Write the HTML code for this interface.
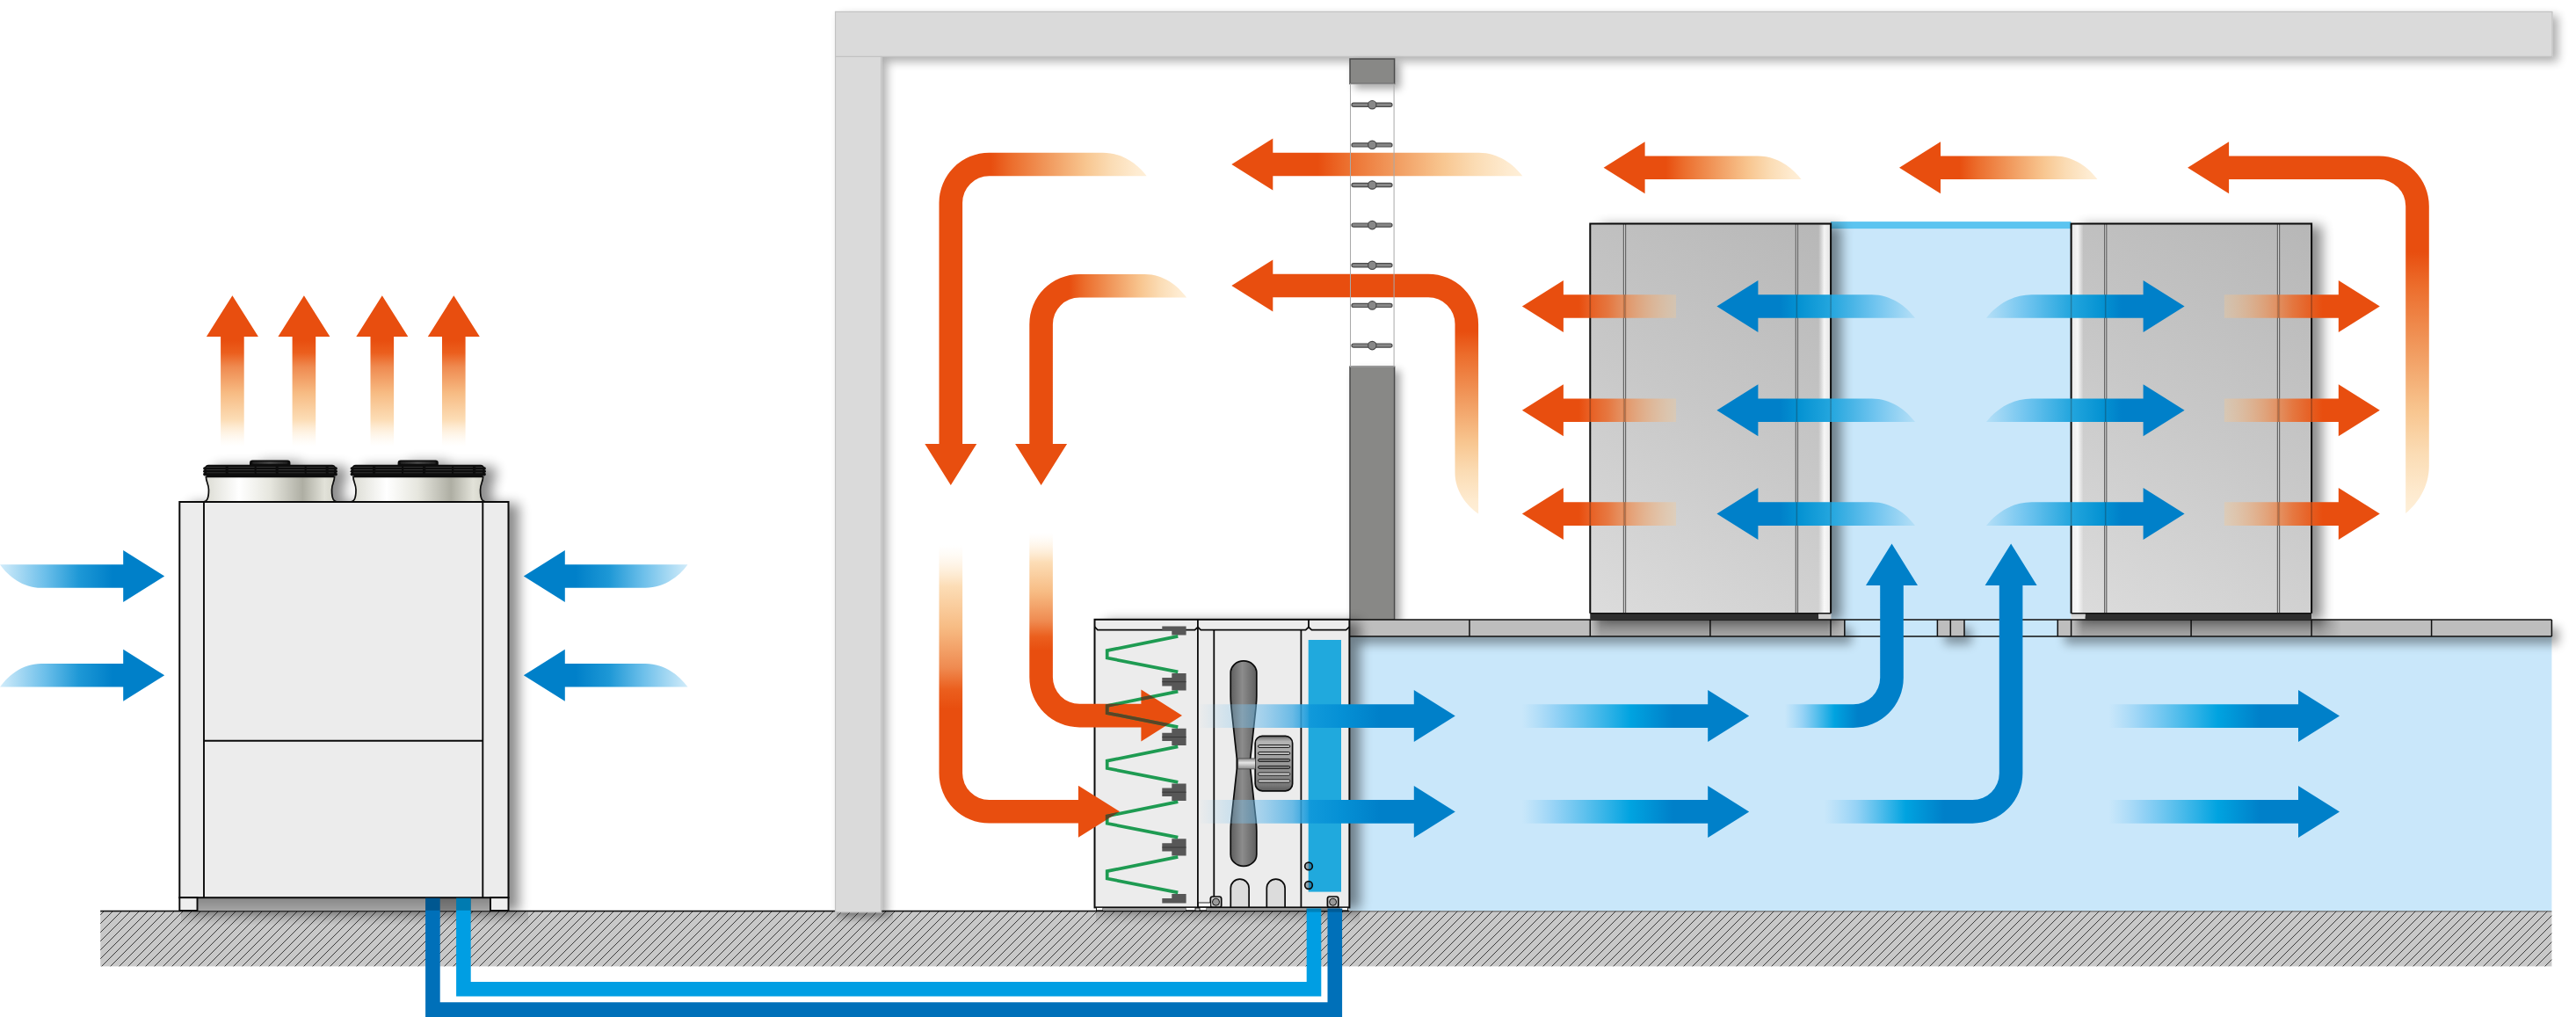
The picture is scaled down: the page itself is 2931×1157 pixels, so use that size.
<!DOCTYPE html>
<html><head><meta charset="utf-8"><title>Cooling airflow diagram</title>
<style>html,body{margin:0;padding:0;background:#fff;font-family:"Liberation Sans",sans-serif;}svg{display:block}</style>
</head><body>
<svg width="2931" height="1157" viewBox="0 0 2931 1157">
<defs>
<pattern id="hatch" patternUnits="userSpaceOnUse" width="10" height="10"><rect width="10" height="10" fill="#C8C8C8"/><path d="M-1,6 L6,-1 M4,11 L11,4" stroke="#333" stroke-width="0.95" fill="none"/></pattern>
<linearGradient id="gsh" x1="0" y1="0" x2="0" y2="1"><stop offset="0" stop-color="#000" stop-opacity="0.16"/><stop offset="1" stop-color="#000" stop-opacity="0"/></linearGradient>
<filter id="shS" x="-5%" y="-5%" width="110%" height="115%"><feGaussianBlur in="SourceAlpha" stdDeviation="5.5"/><feOffset dx="6" dy="5"/><feComponentTransfer><feFuncA type="linear" slope="0.32"/></feComponentTransfer><feMerge><feMergeNode/><feMergeNode in="SourceGraphic"/></feMerge></filter>
<filter id="shL" x="-15%" y="-15%" width="135%" height="130%"><feGaussianBlur in="SourceAlpha" stdDeviation="7"/><feOffset dx="12" dy="2"/><feComponentTransfer><feFuncA type="linear" slope="0.45"/></feComponentTransfer><feMerge><feMergeNode/><feMergeNode in="SourceGraphic"/></feMerge></filter>
<filter id="shF" x="-2%" y="-60%" width="104%" height="320%"><feGaussianBlur in="SourceAlpha" stdDeviation="6"/><feOffset dx="8" dy="9"/><feComponentTransfer><feFuncA type="linear" slope="0.36"/></feComponentTransfer><feMerge><feMergeNode/><feMergeNode in="SourceGraphic"/></feMerge></filter>
<filter id="shC" filterUnits="userSpaceOnUse" x="1500" y="40" width="140" height="700"><feGaussianBlur in="SourceAlpha" stdDeviation="5"/><feOffset dx="6" dy="5"/><feComponentTransfer><feFuncA type="linear" slope="0.34"/></feComponentTransfer><feMerge><feMergeNode/><feMergeNode in="SourceGraphic"/></feMerge></filter>
<linearGradient id="fsh" x1="0" y1="0" x2="0" y2="1"><stop offset="0" stop-color="#000" stop-opacity="0.32"/><stop offset="1" stop-color="#000" stop-opacity="0.12"/></linearGradient>
<linearGradient id="fshm" x1="0" y1="0" x2="1" y2="0"><stop offset="0" stop-color="#fff" stop-opacity="0"/><stop offset="0.04" stop-color="#fff"/><stop offset="0.92" stop-color="#fff"/><stop offset="1" stop-color="#fff" stop-opacity="0"/></linearGradient>
<mask id="mk1" maskUnits="userSpaceOnUse" x="1800" y="700" width="320" height="30"><rect x="1810" y="700" width="292" height="30" fill="url(#fshm)"/></mask>
<mask id="mk2" maskUnits="userSpaceOnUse" x="2350" y="700" width="330" height="30"><rect x="2358" y="700" width="306" height="30" fill="url(#fshm)"/></mask>
<linearGradient id="g1" gradientUnits="userSpaceOnUse" x1="1809.3" y1="697.8" x2="2083.1" y2="254.6"><stop offset="0.000" stop-color="#DCDCDC"/><stop offset="0.500" stop-color="#C8C8C8"/><stop offset="1.000" stop-color="#B7B7B7"/></linearGradient>
<linearGradient id="g2" gradientUnits="userSpaceOnUse" x1="2069.1" y1="0.0" x2="2082.3" y2="0.0"><stop offset="0.000" stop-color="#fff" stop-opacity="0.00"/><stop offset="0.500" stop-color="#fff" stop-opacity="0.85"/><stop offset="1.000" stop-color="#fff" stop-opacity="0.60"/></linearGradient>
<linearGradient id="g3" gradientUnits="userSpaceOnUse" x1="2356.6" y1="697.8" x2="2630.1" y2="254.6"><stop offset="0.000" stop-color="#DCDCDC"/><stop offset="0.500" stop-color="#C8C8C8"/><stop offset="1.000" stop-color="#B7B7B7"/></linearGradient>
<linearGradient id="g4" gradientUnits="userSpaceOnUse" x1="2357.4" y1="0.0" x2="2370.6" y2="0.0"><stop offset="0.000" stop-color="#fff" stop-opacity="0.60"/><stop offset="0.500" stop-color="#fff" stop-opacity="0.85"/><stop offset="1.000" stop-color="#fff" stop-opacity="0.00"/></linearGradient>
<linearGradient id="bld" x1="0" y1="0" x2="1" y2="0"><stop offset="0" stop-color="#5e5e5e"/><stop offset="0.45" stop-color="#8c8c8c"/><stop offset="1" stop-color="#5e5e5e"/></linearGradient>
<linearGradient id="mot" x1="0" y1="0" x2="0" y2="1"><stop offset="0" stop-color="#6a6a6a"/><stop offset="0.1" stop-color="#b5b5b5"/><stop offset="0.5" stop-color="#9a9a9a"/><stop offset="0.9" stop-color="#777"/><stop offset="1" stop-color="#5a5a5a"/></linearGradient>
<linearGradient id="hub" x1="0" y1="0" x2="0" y2="1"><stop offset="0" stop-color="#8a8a8a"/><stop offset="0.4" stop-color="#e6e6e6"/><stop offset="1" stop-color="#8a8a8a"/></linearGradient>
<linearGradient id="sc" x1="0" y1="0" x2="1" y2="0"><stop offset="0" stop-color="#b9b9b9"/><stop offset="0.45" stop-color="#7f97a5"/><stop offset="0.55" stop-color="#1F86B5"/><stop offset="1" stop-color="#1F86B5"/></linearGradient>
<linearGradient id="capb" x1="0" y1="0" x2="1" y2="0"><stop offset="0" stop-color="#d9d9d0"/><stop offset="0.27" stop-color="#ffffff"/><stop offset="0.5" stop-color="#e6e6de"/><stop offset="0.74" stop-color="#aeaea3"/><stop offset="0.9" stop-color="#e2e2d9"/><stop offset="1" stop-color="#d0d0c6"/></linearGradient>
<linearGradient id="bmp" x1="0" y1="0" x2="1" y2="0"><stop offset="0" stop-color="#222"/><stop offset="0.5" stop-color="#4a4a4a"/><stop offset="1" stop-color="#222"/></linearGradient>
<linearGradient id="ush" x1="0" y1="0" x2="0" y2="1"><stop offset="0" stop-color="#000" stop-opacity="0.18"/><stop offset="1" stop-color="#000" stop-opacity="0"/></linearGradient>
<linearGradient id="g5" gradientUnits="userSpaceOnUse" x1="1127.7" y1="0.0" x2="1304.7" y2="0.0"><stop offset="0.000" stop-color="#E84E0F"/><stop offset="0.130" stop-color="#EC6D2C"/><stop offset="0.370" stop-color="#F19A5E"/><stop offset="0.610" stop-color="#F8C690"/><stop offset="0.770" stop-color="#FBDCB4"/><stop offset="0.930" stop-color="#FEEBD0"/><stop offset="1.000" stop-color="#FEEFD8"/></linearGradient>
<linearGradient id="g6" gradientUnits="userSpaceOnUse" x1="1216.7" y1="0.0" x2="1350.1" y2="0.0"><stop offset="0.000" stop-color="#E84E0F"/><stop offset="0.130" stop-color="#EC6D2C"/><stop offset="0.370" stop-color="#F19A5E"/><stop offset="0.610" stop-color="#F8C690"/><stop offset="0.770" stop-color="#FBDCB4"/><stop offset="0.930" stop-color="#FEEBD0"/><stop offset="1.000" stop-color="#FEEFD8"/></linearGradient>
<linearGradient id="g7" gradientUnits="userSpaceOnUse" x1="0.0" y1="806.5" x2="0.0" y2="620.0"><stop offset="0.000" stop-color="#E84E0F"/><stop offset="0.120" stop-color="#EB5F1E"/><stop offset="0.250" stop-color="#EF8A50"/><stop offset="0.500" stop-color="#F7BC84"/><stop offset="0.750" stop-color="#FCDDB6"/><stop offset="1.000" stop-color="#FFF3E0" stop-opacity="0.00"/></linearGradient>
<linearGradient id="g8" gradientUnits="userSpaceOnUse" x1="0.0" y1="740.4" x2="0.0" y2="606.0"><stop offset="0.000" stop-color="#E84E0F"/><stop offset="0.120" stop-color="#EB5F1E"/><stop offset="0.250" stop-color="#EF8A50"/><stop offset="0.500" stop-color="#F7BC84"/><stop offset="0.750" stop-color="#FCDDB6"/><stop offset="1.000" stop-color="#FFF3E0" stop-opacity="0.00"/></linearGradient>
<linearGradient id="g9" gradientUnits="userSpaceOnUse" x1="1499.6" y1="0.0" x2="1732.3" y2="0.0"><stop offset="0.000" stop-color="#E84E0F"/><stop offset="0.130" stop-color="#EC6D2C"/><stop offset="0.370" stop-color="#F19A5E"/><stop offset="0.610" stop-color="#F8C690"/><stop offset="0.770" stop-color="#FBDCB4"/><stop offset="0.930" stop-color="#FEEBD0"/><stop offset="1.000" stop-color="#FEEFD8"/></linearGradient>
<linearGradient id="g10" gradientUnits="userSpaceOnUse" x1="1895.6" y1="0.0" x2="2049.6" y2="0.0"><stop offset="0.000" stop-color="#E84E0F"/><stop offset="0.130" stop-color="#EC6D2C"/><stop offset="0.370" stop-color="#F19A5E"/><stop offset="0.610" stop-color="#F8C690"/><stop offset="0.770" stop-color="#FBDCB4"/><stop offset="0.930" stop-color="#FEEBD0"/><stop offset="1.000" stop-color="#FEEFD8"/></linearGradient>
<linearGradient id="g11" gradientUnits="userSpaceOnUse" x1="2229.5" y1="0.0" x2="2386.4" y2="0.0"><stop offset="0.000" stop-color="#E84E0F"/><stop offset="0.130" stop-color="#EC6D2C"/><stop offset="0.370" stop-color="#F19A5E"/><stop offset="0.610" stop-color="#F8C690"/><stop offset="0.770" stop-color="#FBDCB4"/><stop offset="0.930" stop-color="#FEEBD0"/><stop offset="1.000" stop-color="#FEEFD8"/></linearGradient>
<linearGradient id="g12" gradientUnits="userSpaceOnUse" x1="0.0" y1="377.0" x2="0.0" y2="584.5"><stop offset="0.000" stop-color="#E84E0F"/><stop offset="0.130" stop-color="#EC6D2C"/><stop offset="0.370" stop-color="#F19A5E"/><stop offset="0.610" stop-color="#F8C690"/><stop offset="0.770" stop-color="#FBDCB4"/><stop offset="0.930" stop-color="#FEEBD0"/><stop offset="1.000" stop-color="#FEEFD8"/></linearGradient>
<linearGradient id="g13" gradientUnits="userSpaceOnUse" x1="0.0" y1="286.7" x2="0.0" y2="584.0"><stop offset="0.000" stop-color="#E84E0F"/><stop offset="0.130" stop-color="#EC6D2C"/><stop offset="0.370" stop-color="#F19A5E"/><stop offset="0.610" stop-color="#F8C690"/><stop offset="0.770" stop-color="#FBDCB4"/><stop offset="0.930" stop-color="#FEEBD0"/><stop offset="1.000" stop-color="#FEEFD8"/></linearGradient>
<linearGradient id="g14" gradientUnits="userSpaceOnUse" x1="0.0" y1="387.0" x2="0.0" y2="508.0"><stop offset="0.000" stop-color="#E84E0F"/><stop offset="0.120" stop-color="#EB5F1E"/><stop offset="0.250" stop-color="#EF8A50"/><stop offset="0.500" stop-color="#F7BC84"/><stop offset="0.750" stop-color="#FCDDB6"/><stop offset="1.000" stop-color="#FFF3E0" stop-opacity="0.00"/></linearGradient>
<linearGradient id="g15" gradientUnits="userSpaceOnUse" x1="0.0" y1="387.0" x2="0.0" y2="508.0"><stop offset="0.000" stop-color="#E84E0F"/><stop offset="0.120" stop-color="#EB5F1E"/><stop offset="0.250" stop-color="#EF8A50"/><stop offset="0.500" stop-color="#F7BC84"/><stop offset="0.750" stop-color="#FCDDB6"/><stop offset="1.000" stop-color="#FFF3E0" stop-opacity="0.00"/></linearGradient>
<linearGradient id="g16" gradientUnits="userSpaceOnUse" x1="0.0" y1="387.0" x2="0.0" y2="508.0"><stop offset="0.000" stop-color="#E84E0F"/><stop offset="0.120" stop-color="#EB5F1E"/><stop offset="0.250" stop-color="#EF8A50"/><stop offset="0.500" stop-color="#F7BC84"/><stop offset="0.750" stop-color="#FCDDB6"/><stop offset="1.000" stop-color="#FFF3E0" stop-opacity="0.00"/></linearGradient>
<linearGradient id="g17" gradientUnits="userSpaceOnUse" x1="0.0" y1="387.0" x2="0.0" y2="508.0"><stop offset="0.000" stop-color="#E84E0F"/><stop offset="0.120" stop-color="#EB5F1E"/><stop offset="0.250" stop-color="#EF8A50"/><stop offset="0.500" stop-color="#F7BC84"/><stop offset="0.750" stop-color="#FCDDB6"/><stop offset="1.000" stop-color="#FFF3E0" stop-opacity="0.00"/></linearGradient>
<linearGradient id="g18" gradientUnits="userSpaceOnUse" x1="1797.0" y1="0.0" x2="1907.0" y2="0.0"><stop offset="0.000" stop-color="#E84E0F"/><stop offset="0.300" stop-color="#EA6A2A" stop-opacity="0.86"/><stop offset="0.650" stop-color="#F0985A" stop-opacity="0.58"/><stop offset="1.000" stop-color="#F8C890" stop-opacity="0.32"/></linearGradient>
<linearGradient id="g19" gradientUnits="userSpaceOnUse" x1="2642.7" y1="0.0" x2="2530.8" y2="0.0"><stop offset="0.000" stop-color="#E84E0F"/><stop offset="0.300" stop-color="#EA6A2A" stop-opacity="0.86"/><stop offset="0.650" stop-color="#F0985A" stop-opacity="0.58"/><stop offset="1.000" stop-color="#F8C890" stop-opacity="0.32"/></linearGradient>
<linearGradient id="g20" gradientUnits="userSpaceOnUse" x1="1797.0" y1="0.0" x2="1907.0" y2="0.0"><stop offset="0.000" stop-color="#E84E0F"/><stop offset="0.300" stop-color="#EA6A2A" stop-opacity="0.86"/><stop offset="0.650" stop-color="#F0985A" stop-opacity="0.58"/><stop offset="1.000" stop-color="#F8C890" stop-opacity="0.32"/></linearGradient>
<linearGradient id="g21" gradientUnits="userSpaceOnUse" x1="2642.7" y1="0.0" x2="2530.8" y2="0.0"><stop offset="0.000" stop-color="#E84E0F"/><stop offset="0.300" stop-color="#EA6A2A" stop-opacity="0.86"/><stop offset="0.650" stop-color="#F0985A" stop-opacity="0.58"/><stop offset="1.000" stop-color="#F8C890" stop-opacity="0.32"/></linearGradient>
<linearGradient id="g22" gradientUnits="userSpaceOnUse" x1="1797.0" y1="0.0" x2="1907.0" y2="0.0"><stop offset="0.000" stop-color="#E84E0F"/><stop offset="0.300" stop-color="#EA6A2A" stop-opacity="0.86"/><stop offset="0.650" stop-color="#F0985A" stop-opacity="0.58"/><stop offset="1.000" stop-color="#F8C890" stop-opacity="0.32"/></linearGradient>
<linearGradient id="g23" gradientUnits="userSpaceOnUse" x1="2642.7" y1="0.0" x2="2530.8" y2="0.0"><stop offset="0.000" stop-color="#E84E0F"/><stop offset="0.300" stop-color="#EA6A2A" stop-opacity="0.86"/><stop offset="0.650" stop-color="#F0985A" stop-opacity="0.58"/><stop offset="1.000" stop-color="#F8C890" stop-opacity="0.32"/></linearGradient>
<linearGradient id="g24" gradientUnits="userSpaceOnUse" x1="128.0" y1="0.0" x2="0.0" y2="0.0"><stop offset="0.000" stop-color="#0080C9"/><stop offset="0.300" stop-color="#1E98D6"/><stop offset="0.600" stop-color="#6CBFEA"/><stop offset="1.000" stop-color="#D2ECFA"/></linearGradient>
<linearGradient id="g25" gradientUnits="userSpaceOnUse" x1="655.0" y1="0.0" x2="782.5" y2="0.0"><stop offset="0.000" stop-color="#0080C9"/><stop offset="0.300" stop-color="#1E98D6"/><stop offset="0.600" stop-color="#6CBFEA"/><stop offset="1.000" stop-color="#D2ECFA"/></linearGradient>
<linearGradient id="g26" gradientUnits="userSpaceOnUse" x1="1363.0" y1="0.0" x2="1570.0" y2="0.0"><stop offset="0.000" stop-color="#7DC4EE" stop-opacity="0.00"/><stop offset="0.190" stop-color="#7DC4EE" stop-opacity="0.30"/><stop offset="0.360" stop-color="#6FBDEB" stop-opacity="0.60"/><stop offset="0.520" stop-color="#4AAEE4" stop-opacity="0.80"/><stop offset="0.620" stop-color="#0F98DA" stop-opacity="0.95"/><stop offset="0.790" stop-color="#0590D5"/><stop offset="1.000" stop-color="#0080C9"/></linearGradient>
<linearGradient id="g27" gradientUnits="userSpaceOnUse" x1="1363.0" y1="0.0" x2="1570.0" y2="0.0"><stop offset="0.000" stop-color="#7DC4EE" stop-opacity="0.00"/><stop offset="0.190" stop-color="#7DC4EE" stop-opacity="0.30"/><stop offset="0.360" stop-color="#6FBDEB" stop-opacity="0.60"/><stop offset="0.520" stop-color="#4AAEE4" stop-opacity="0.80"/><stop offset="0.620" stop-color="#0F98DA" stop-opacity="0.95"/><stop offset="0.790" stop-color="#0590D5"/><stop offset="1.000" stop-color="#0080C9"/></linearGradient>
<linearGradient id="g28" gradientUnits="userSpaceOnUse" x1="1731.7" y1="0.0" x2="1903.5" y2="0.0"><stop offset="0.000" stop-color="#9AD4F6" stop-opacity="0.00"/><stop offset="0.220" stop-color="#8FD0F5" stop-opacity="0.90"/><stop offset="0.720" stop-color="#00A3E0"/><stop offset="1.000" stop-color="#0080C9"/></linearGradient>
<linearGradient id="g29" gradientUnits="userSpaceOnUse" x1="2399.7" y1="0.0" x2="2571.5" y2="0.0"><stop offset="0.000" stop-color="#9AD4F6" stop-opacity="0.00"/><stop offset="0.220" stop-color="#8FD0F5" stop-opacity="0.90"/><stop offset="0.720" stop-color="#00A3E0"/><stop offset="1.000" stop-color="#0080C9"/></linearGradient>
<linearGradient id="g30" gradientUnits="userSpaceOnUse" x1="1731.7" y1="0.0" x2="1903.5" y2="0.0"><stop offset="0.000" stop-color="#9AD4F6" stop-opacity="0.00"/><stop offset="0.220" stop-color="#8FD0F5" stop-opacity="0.90"/><stop offset="0.720" stop-color="#00A3E0"/><stop offset="1.000" stop-color="#0080C9"/></linearGradient>
<linearGradient id="g31" gradientUnits="userSpaceOnUse" x1="2399.7" y1="0.0" x2="2571.5" y2="0.0"><stop offset="0.000" stop-color="#9AD4F6" stop-opacity="0.00"/><stop offset="0.220" stop-color="#8FD0F5" stop-opacity="0.90"/><stop offset="0.720" stop-color="#00A3E0"/><stop offset="1.000" stop-color="#0080C9"/></linearGradient>
<linearGradient id="g32" gradientUnits="userSpaceOnUse" x1="2030.6" y1="0.0" x2="2114.0" y2="0.0"><stop offset="0.000" stop-color="#9AD4F6" stop-opacity="0.00"/><stop offset="0.250" stop-color="#8FD0F5" stop-opacity="0.90"/><stop offset="0.680" stop-color="#00A3E0"/><stop offset="1.000" stop-color="#0080C9"/></linearGradient>
<linearGradient id="g33" gradientUnits="userSpaceOnUse" x1="2075.4" y1="0.0" x2="2212.0" y2="0.0"><stop offset="0.000" stop-color="#9AD4F6" stop-opacity="0.00"/><stop offset="0.270" stop-color="#8FD0F5" stop-opacity="0.90"/><stop offset="0.680" stop-color="#00A3E0"/><stop offset="1.000" stop-color="#0080C9"/></linearGradient>
<linearGradient id="g34" gradientUnits="userSpaceOnUse" x1="2025.0" y1="0.0" x2="2179.0" y2="0.0"><stop offset="0.000" stop-color="#0080C9"/><stop offset="0.140" stop-color="#0492D2"/><stop offset="0.380" stop-color="#24A6DE"/><stop offset="0.700" stop-color="#6FC4EF"/><stop offset="1.000" stop-color="#B5DFF7"/></linearGradient>
<linearGradient id="g35" gradientUnits="userSpaceOnUse" x1="2414.0" y1="0.0" x2="2260.0" y2="0.0"><stop offset="0.000" stop-color="#0080C9"/><stop offset="0.140" stop-color="#0492D2"/><stop offset="0.380" stop-color="#24A6DE"/><stop offset="0.700" stop-color="#6FC4EF"/><stop offset="1.000" stop-color="#B5DFF7"/></linearGradient>
<linearGradient id="g36" gradientUnits="userSpaceOnUse" x1="2025.0" y1="0.0" x2="2179.0" y2="0.0"><stop offset="0.000" stop-color="#0080C9"/><stop offset="0.140" stop-color="#0492D2"/><stop offset="0.380" stop-color="#24A6DE"/><stop offset="0.700" stop-color="#6FC4EF"/><stop offset="1.000" stop-color="#B5DFF7"/></linearGradient>
<linearGradient id="g37" gradientUnits="userSpaceOnUse" x1="2414.0" y1="0.0" x2="2260.0" y2="0.0"><stop offset="0.000" stop-color="#0080C9"/><stop offset="0.140" stop-color="#0492D2"/><stop offset="0.380" stop-color="#24A6DE"/><stop offset="0.700" stop-color="#6FC4EF"/><stop offset="1.000" stop-color="#B5DFF7"/></linearGradient>
<linearGradient id="g38" gradientUnits="userSpaceOnUse" x1="2025.0" y1="0.0" x2="2179.0" y2="0.0"><stop offset="0.000" stop-color="#0080C9"/><stop offset="0.140" stop-color="#0492D2"/><stop offset="0.380" stop-color="#24A6DE"/><stop offset="0.700" stop-color="#6FC4EF"/><stop offset="1.000" stop-color="#B5DFF7"/></linearGradient>
<linearGradient id="g39" gradientUnits="userSpaceOnUse" x1="2414.0" y1="0.0" x2="2260.0" y2="0.0"><stop offset="0.000" stop-color="#0080C9"/><stop offset="0.140" stop-color="#0492D2"/><stop offset="0.380" stop-color="#24A6DE"/><stop offset="0.700" stop-color="#6FC4EF"/><stop offset="1.000" stop-color="#B5DFF7"/></linearGradient>
<clipPath id="cpo"><path d="M1068.5,620 L1068.5,879.6 A57,57 0 0 0 1125.5,936.6 L1226.9,936.6 L1226.9,952.8 L1274,923.3 L1226.9,893.8 L1226.9,910 L1125.5,910 A30.4,30.4 0 0 1 1095.1,879.6 L1095.1,620 Z"/><path d="M1171.3,606 L1171.3,770.4 A57,57 0 0 0 1228.3,827.4 L1298.4,827.4 L1298.4,843.6 L1345,814.1 L1298.4,784.6 L1298.4,800.8 L1228.3,800.8 A30.4,30.4 0 0 1 1197.9,770.4 L1197.9,606 Z"/></clipPath>
</defs>
<rect width="2931" height="1157" fill="#fff"/>
<rect x="1535.5" y="705" width="1367.9" height="331.5" fill="#C9E7FA"/>
<rect x="2083" y="254.5" width="273.6" height="470" fill="#C9E7FA"/>
<rect x="2083" y="252.1" width="273.4" height="8" fill="#5BC4F0"/>
<rect x="114.2" y="1036.6" width="2789.2" height="62.8" fill="url(#hatch)"/>
<rect x="114.2" y="1035.7" width="1421" height="1.6" fill="#111"/>
<rect x="1535" y="1036.4" width="1368.4" height="0.9" fill="#444"/>
<rect x="206" y="1037.3" width="395" height="16" fill="url(#gsh)"/>
<rect x="1247" y="1037.3" width="300" height="16" fill="url(#gsh)"/>
<rect x="952" y="1037.3" width="64" height="12" fill="url(#gsh)"/>
<g filter="url(#shS)">
<path d="M950.5,13.3 H2904 V64.3 H1002.6 V1037.6 H950.5 Z" fill="#DADADA" stroke="#C2C2C2" stroke-width="1.2"/>
</g>
<path d="M950.5,64.3 H1002.6" stroke="#C2C2C2" stroke-width="1.2" fill="none"/>
<g filter="url(#shC)">
<rect x="1536" y="67" width="50.6" height="28.3" fill="#888886" stroke="#4a4a4a" stroke-width="1.5"/>
<rect x="1536" y="417.2" width="50.6" height="288" fill="#888886" stroke="#4a4a4a" stroke-width="1.5"/>
</g>
<g filter="url(#shF)">
<rect x="1535.5" y="705.0" width="563.3" height="19.0" fill="#BEBEBE"/>
<rect x="2204.4" y="705.0" width="30.6" height="19.0" fill="#BEBEBE"/>
<rect x="2341.3" y="705.0" width="562.1" height="19.0" fill="#BEBEBE"/>
</g>
<rect x="1810" y="705" width="292" height="19" fill="url(#fsh)" mask="url(#mk1)"/>
<rect x="2358" y="705" width="306" height="19" fill="url(#fsh)" mask="url(#mk2)"/>
<path d="M1535.5,705.0 H2903.4 M1535.5,724.0 H2903.4" stroke="#111" stroke-width="1.5" fill="none"/>
<path d="M1672.0,705.0 V724.0 M1809.3,705.0 V724.0 M1945.9,705.0 V724.0 M2083.0,705.0 V724.0 M2098.8,705.0 V724.0 M2204.4,705.0 V724.0 M2219.3,705.0 V724.0 M2235.0,705.0 V724.0 M2341.3,705.0 V724.0 M2356.6,705.0 V724.0 M2493.1,705.0 V724.0 M2630.1,705.0 V724.0 M2766.6,705.0 V724.0 M2903.4,705.0 V724.0" stroke="#111" stroke-width="1.5" fill="none"/>
<g filter="url(#shL)">
<rect x="1809.3" y="254.6" width="273.8" height="449.2" fill="url(#g1)"/>
</g>
<rect x="2069.1" y="255.6" width="13.2" height="442.2" fill="url(#g2)"/>
<rect x="1809.3" y="697.8" width="259.8" height="7" fill="#2e2e2e"/>
<rect x="2069.1" y="697.8" width="14" height="3.5" fill="#d0d0d0"/>
<path d="M1848.5,254.6 V697.8" stroke="#d2d2d2" stroke-width="3" fill="none"/>
<path d="M1847.4,254.6 V697.8 M1849.6,254.6 V697.8" stroke="#666" stroke-width="1.2" fill="none"/>
<path d="M2044.4,254.6 V697.8" stroke="#d2d2d2" stroke-width="3" fill="none"/>
<path d="M2043.3,254.6 V697.8 M2045.5,254.6 V697.8" stroke="#666" stroke-width="1.2" fill="none"/>
<path d="M1809.3,697.8 V254.6 H2083.1 V697.8" stroke="#0a0a0a" stroke-width="2" fill="none"/>
<path d="M1809.3,697.8 H2083.1" stroke="#111" stroke-width="1.5" fill="none"/>
<g filter="url(#shL)">
<rect x="2356.6" y="254.6" width="273.5" height="449.2" fill="url(#g3)"/>
</g>
<rect x="2357.4" y="255.6" width="13.2" height="442.2" fill="url(#g4)"/>
<rect x="2372.6" y="697.8" width="257.5" height="7" fill="#2e2e2e"/>
<rect x="2356.6" y="697.8" width="16" height="3.5" fill="#d0d0d0"/>
<path d="M2395.7,254.6 V697.8" stroke="#d2d2d2" stroke-width="3" fill="none"/>
<path d="M2394.6,254.6 V697.8 M2396.8,254.6 V697.8" stroke="#666" stroke-width="1.2" fill="none"/>
<path d="M2592.5,254.6 V697.8" stroke="#d2d2d2" stroke-width="3" fill="none"/>
<path d="M2591.4,254.6 V697.8 M2593.6,254.6 V697.8" stroke="#666" stroke-width="1.2" fill="none"/>
<path d="M2356.6,697.8 V254.6 H2630.1 V697.8" stroke="#0a0a0a" stroke-width="2" fill="none"/>
<path d="M2356.6,697.8 H2630.1" stroke="#111" stroke-width="1.5" fill="none"/>
<g filter="url(#shL)">
<rect x="1245.5" y="704.8" width="289.9" height="327.6" fill="#ECECEC"/>
</g>
<rect x="1488.7" y="728" width="37.3" height="286.6" fill="#20A9DD"/>
<path d="M1245.5,713.2 L1248.9,716.6 H1359.5 L1362.9,713.5 L1366.3,716.6 H1485.6 L1489,713.5 L1492.4,716.6 H1531.6 L1535.4,713.2" stroke="#0a0a0a" stroke-width="1.7" fill="none"/>
<path d="M1362.9,704.8 V1032.4 M1381.3,716.6 V1032.4 M1480.4,716.6 V1032.4 M1489,704.8 V713.5" stroke="#0a0a0a" stroke-width="1.8" fill="none"/>
<path d="M1333.3,766.0 H1349.6 V785.4 H1333.3 V780.4 H1322.3 V771.0 H1333.3 Z" fill="#575757"/>
<path d="M1322.3,775.7 H1349.6" stroke="#333" stroke-width="0.9"/>
<path d="M1333.3,828.8 H1349.6 V848.1 H1333.3 V843.1 H1322.3 V833.8 H1333.3 Z" fill="#575757"/>
<path d="M1322.3,838.5 H1349.6" stroke="#333" stroke-width="0.9"/>
<path d="M1333.3,891.5 H1349.6 V910.9 H1333.3 V905.9 H1322.3 V896.5 H1333.3 Z" fill="#575757"/>
<path d="M1322.3,901.2 H1349.6" stroke="#333" stroke-width="0.9"/>
<path d="M1333.3,954.2 H1349.6 V973.6 H1333.3 V968.6 H1322.3 V959.2 H1333.3 Z" fill="#575757"/>
<path d="M1322.3,964.0 H1349.6" stroke="#333" stroke-width="0.9"/>
<path d="M1322.3,712.5 H1349.6 V722.6 H1333.3 V717.6 H1322.3 Z" fill="#575757"/>
<path d="M1333.3,1017.1 H1349.6 V1027.5 H1322.3 V1022.1 H1333.3 Z" fill="#575757"/>
<path d="M1400.2,765.3 A14.8,13.5 0 0 1 1429.8,765.3 V791.8 C1429.8,797.8 1429.4,800.8 1429.0,804.8 L1422.7,862.8 L1422.7,874.8 L1429.0,932.4 C1429.4,936.4 1429.8,939.4 1429.8,945.4 V971.9 A14.8,13.5 0 0 1 1400.2,971.9 V945.4 C1400.2,939.4 1400.6,936.4 1401.0,932.4 L1407.3,874.8 L1407.3,862.8 L1401.0,804.8 C1400.6,800.8 1400.2,797.8 1400.2,791.8 Z" fill="url(#bld)" stroke="#0a0a0a" stroke-width="1.7"/>
<rect x="1428.2" y="837.4" width="42.4" height="62.4" rx="8" fill="url(#mot)" stroke="#0a0a0a" stroke-width="1.7"/>
<rect x="1431.5" y="847.5" width="36.3" height="3" rx="1.5" fill="#b8b8b8" stroke="#111" stroke-width="0.9"/>
<rect x="1431.5" y="855.5" width="36.3" height="3" rx="1.5" fill="#b8b8b8" stroke="#111" stroke-width="0.9"/>
<rect x="1431.5" y="863.4" width="36.3" height="3" rx="1.5" fill="#7a7a7a" stroke="#111" stroke-width="0.9"/>
<rect x="1431.5" y="871.4" width="36.3" height="3" rx="1.5" fill="#7a7a7a" stroke="#111" stroke-width="0.9"/>
<rect x="1431.5" y="879.1" width="36.3" height="3" rx="1.5" fill="#d8d8d8" stroke="#111" stroke-width="0.9"/>
<rect x="1431.5" y="887.0" width="36.3" height="3" rx="1.5" fill="#d8d8d8" stroke="#111" stroke-width="0.9"/>
<rect x="1408.8" y="862.9" width="19.6" height="12" fill="url(#hub)" stroke="#333" stroke-width="0.6"/>
<path d="M1400.3,1032.4 V1010.4 A10.4,10.4 0 0 1 1421.1,1010.4 V1032.4" fill="#DCDCDC" stroke="#0a0a0a" stroke-width="1.7"/>
<path d="M1441.3,1032.4 V1010.4 A10.4,10.4 0 0 1 1462.1,1010.4 V1032.4" fill="#DCDCDC" stroke="#0a0a0a" stroke-width="1.7"/>
<rect x="1377.3" y="1020" width="12.4" height="12.4" rx="2.5" fill="#c9c9c9" stroke="#0a0a0a" stroke-width="1.7"/>
<circle cx="1383.5" cy="1026.2" r="4" fill="#9a9a9a" stroke="#111" stroke-width="1"/>
<rect x="1510.4" y="1020" width="12.4" height="12.4" rx="2.5" fill="#c9c9c9" stroke="#0a0a0a" stroke-width="1.7"/>
<circle cx="1516.6" cy="1026.2" r="4" fill="#9a9a9a" stroke="#111" stroke-width="1"/>
<rect x="1363.5" y="1027" width="14" height="5" fill="#fff" stroke="#111" stroke-width="0.9"/>
<circle cx="1489" cy="985.4" r="4.3" fill="url(#sc)" stroke="#0a0a0a" stroke-width="1.7"/>
<circle cx="1489" cy="1007.0" r="4.3" fill="url(#sc)" stroke="#0a0a0a" stroke-width="1.7"/>
<rect x="1245.5" y="704.8" width="289.9" height="327.6" fill="none" stroke="#0a0a0a" stroke-width="2"/>
<rect x="1247.5" y="1032.4" width="7.5" height="3.4" fill="#fff" stroke="#111" stroke-width="0.9"/>
<rect x="1349.0" y="1032.4" width="11.0" height="3.4" fill="#fff" stroke="#111" stroke-width="0.9"/>
<rect x="1365.0" y="1032.4" width="8.0" height="3.4" fill="#fff" stroke="#111" stroke-width="0.9"/>
<rect x="1524.0" y="1032.4" width="9.5" height="3.4" fill="#fff" stroke="#111" stroke-width="0.9"/>
<rect x="1255" y="1033.2" width="94" height="2.8" fill="#9c9c9c"/><rect x="1373" y="1033.2" width="151" height="2.8" fill="#9c9c9c"/>
<g filter="url(#shL)">
<rect x="204.3" y="571.0" width="374.2" height="464.2" fill="#ECECEC"/>
<path d="M234.4,542.3 C234.4,548.3 237.5,550.3 237.5,557.3 C237.5,567.0 235.7,571.0 230.2,571.0 H384.8 C379.3,571.0 377.5,567.0 377.5,557.3 C377.5,550.3 380.6,548.3 380.6,542.3 Z" fill="url(#capb)" stroke="#0a0a0a" stroke-width="1.7"/>
<rect x="284.0" y="523.6" width="46.4" height="10" rx="3.2" fill="#0a0a0a"/>
<rect x="287.0" y="525.2" width="40.4" height="2.6" rx="1.3" fill="url(#bmp)"/>
<rect x="232.7" y="528.7" width="149.6" height="13.6" rx="4.5" fill="#0a0a0a"/>
<circle cx="232.9" cy="533.0" r="1.8" fill="#0a0a0a"/><circle cx="382.1" cy="533.0" r="1.8" fill="#0a0a0a"/>
<circle cx="232.9" cy="536.3" r="1.8" fill="#0a0a0a"/><circle cx="382.1" cy="536.3" r="1.8" fill="#0a0a0a"/>
<circle cx="232.9" cy="539.6" r="1.8" fill="#0a0a0a"/><circle cx="382.1" cy="539.6" r="1.8" fill="#0a0a0a"/>
<path d="M234.7,531.4 H380.3 M234.7,534.6 H380.3 M234.7,537.8 H380.3" stroke="#484848" stroke-width="0.7" stroke-dasharray="22 3 30 2" fill="none"/>
<path d="M401.9,542.3 C401.9,548.3 405.0,550.3 405.0,557.3 C405.0,567.0 403.2,571.0 397.7,571.0 H553.8 C548.3,571.0 546.5,567.0 546.5,557.3 C546.5,550.3 549.6,548.3 549.6,542.3 Z" fill="url(#capb)" stroke="#0a0a0a" stroke-width="1.7"/>
<rect x="452.6" y="523.6" width="46.2" height="10" rx="3.2" fill="#0a0a0a"/>
<rect x="455.6" y="525.2" width="40.2" height="2.6" rx="1.3" fill="url(#bmp)"/>
<rect x="400.2" y="528.7" width="151.1" height="13.6" rx="4.5" fill="#0a0a0a"/>
<circle cx="400.4" cy="533.0" r="1.8" fill="#0a0a0a"/><circle cx="551.1" cy="533.0" r="1.8" fill="#0a0a0a"/>
<circle cx="400.4" cy="536.3" r="1.8" fill="#0a0a0a"/><circle cx="551.1" cy="536.3" r="1.8" fill="#0a0a0a"/>
<circle cx="400.4" cy="539.6" r="1.8" fill="#0a0a0a"/><circle cx="551.1" cy="539.6" r="1.8" fill="#0a0a0a"/>
<path d="M402.2,531.4 H549.3 M402.2,534.6 H549.3 M402.2,537.8 H549.3" stroke="#484848" stroke-width="0.7" stroke-dasharray="22 3 30 2" fill="none"/>
</g>
<rect x="224.5" y="1021.2" width="333.5" height="15" fill="#a4a4a4"/>
<rect x="224.5" y="1021.2" width="333.5" height="15" fill="url(#ush)"/>
<rect x="204.3" y="571.0" width="374.2" height="450.2" fill="#ECECEC" stroke="#0a0a0a" stroke-width="2"/>
<path d="M232,571.0 V1021.2 M549.3,571.0 V1021.2 M232,842.8 H549.3" stroke="#0a0a0a" stroke-width="1.9" fill="none"/>
<rect x="204.3" y="1021.2" width="20.2" height="14.8" fill="#EFEFEF" stroke="#0a0a0a" stroke-width="1.9"/>
<rect x="558" y="1021.2" width="20.5" height="14.8" fill="#EFEFEF" stroke="#0a0a0a" stroke-width="1.9"/>
<path d="M492.4,1021.8 V1148.6 H1518.8 V1033.6" stroke="#0070B9" stroke-width="16.6" fill="none"/>
<path d="M527.4,1021.8 V1125.2 H1495 V1033.6" stroke="#009EE3" stroke-width="16.6" fill="none"/>
<rect x="484" y="1021.8" width="52" height="14" fill="#000" opacity="0.22"/>
<rect x="1486" y="1033.6" width="42" height="4" fill="#000" opacity="0.18"/>
<path d="M1254.5,173.7 C1277.1,173.7 1294.7,187.0 1304.7,200.3 L1125.5,200.3 A30.4,30.4 0 0 0 1095.1,230.7 L1095.1,504.9 L1111.3,504.9 L1081.8,552 L1052.3,504.9 L1068.5,504.9 L1068.5,230.7 A57,57 0 0 1 1125.5,173.7 Z" fill="url(#g5)" />
<path d="M1302.6,311.9 C1324.0,311.9 1340.6,325.2 1350.1,338.5 L1228.3,338.5 A30.4,30.4 0 0 0 1197.9,368.9 L1197.9,504.9 L1214.1,504.9 L1184.6,552 L1155.1,504.9 L1171.3,504.9 L1171.3,368.9 A57,57 0 0 1 1228.3,311.9 Z" fill="url(#g6)" />
<path d="M1068.5,620 L1068.5,879.6 A57,57 0 0 0 1125.5,936.6 L1226.9,936.6 L1226.9,952.8 L1274,923.3 L1226.9,893.8 L1226.9,910 L1125.5,910 A30.4,30.4 0 0 1 1095.1,879.6 L1095.1,620 Z" fill="url(#g7)" />
<path d="M1171.3,606 L1171.3,770.4 A57,57 0 0 0 1228.3,827.4 L1298.4,827.4 L1298.4,843.6 L1345,814.1 L1298.4,784.6 L1298.4,800.8 L1228.3,800.8 A30.4,30.4 0 0 1 1197.9,770.4 L1197.9,606 Z" fill="url(#g8)" />
<path d="M1401.3,187.0 L1448.3,157.5 L1448.3,173.7 L1682.6,173.7 C1705.0,173.7 1722.4,187.0 1732.3,200.3 L1448.3,200.3 L1448.3,216.5 Z" fill="url(#g9)"/>
<path d="M1824.6,190.8 L1871.6,161.3 L1871.6,177.5 L2000.0,177.5 C2022.3,177.5 2039.7,190.8 2049.6,204.1 L1871.6,204.1 L1871.6,220.3 Z" fill="url(#g10)"/>
<path d="M2161.0,190.8 L2208.0,161.3 L2208.0,177.5 L2337.8,177.5 C2359.7,177.5 2376.7,190.8 2386.4,204.1 L2208.0,204.1 L2208.0,220.3 Z" fill="url(#g11)"/>
<path d="M1401.3,325.0 L1448.3,295.5 L1448.3,311.7 L1625.1,311.7 A57,57 0 0 1 1682.1,368.7 L1682.1,584.5 C1668.8,575.2 1655.5,558.8 1655.5,537.8 L1655.5,368.7 A30.4,30.4 0 0 0 1625.1,338.3 L1448.3,338.3 L1448.3,354.5 Z" fill="url(#g12)" />
<path d="M2489.1,190.8 L2536.1,161.3 L2536.1,177.5 L2706.8,177.5 A57,57 0 0 1 2763.8,234.5 L2763.8,530.0 C2763.8,554.3 2750.5,573.2 2737.2,584.0 L2737.2,234.5 A30.4,30.4 0 0 0 2706.8,204.1 L2536.1,204.1 L2536.1,220.3 Z" fill="url(#g13)" />
<path d="M264.4,336.2 L293.9,383 L277.7,383 L277.7,508 L251.1,508 L251.1,383 L234.9,383 Z" fill="url(#g14)" />
<path d="M345.9,336.2 L375.4,383 L359.2,383 L359.2,508 L332.6,508 L332.6,383 L316.4,383 Z" fill="url(#g15)" />
<path d="M434.8,336.2 L464.3,383 L448.1,383 L448.1,508 L421.5,508 L421.5,383 L405.3,383 Z" fill="url(#g16)" />
<path d="M516.3,336.2 L545.8,383 L529.6,383 L529.6,508 L503.0,508 L503.0,383 L486.8,383 Z" fill="url(#g17)" />
<path d="M1731.9,348.5 L1778.9,319.0 L1778.9,335.2 L1907.0,335.2 L1907.0,361.8 L1778.9,361.8 L1778.9,378.0 Z" fill="url(#g18)"/>
<path d="M2707.8,348.5 L2660.8,319.0 L2660.8,335.2 L2530.8,335.2 L2530.8,361.8 L2660.8,361.8 L2660.8,378.0 Z" fill="url(#g19)"/>
<path d="M1731.9,466.8 L1778.9,437.3 L1778.9,453.5 L1907.0,453.5 L1907.0,480.1 L1778.9,480.1 L1778.9,496.3 Z" fill="url(#g20)"/>
<path d="M2707.8,466.8 L2660.8,437.3 L2660.8,453.5 L2530.8,453.5 L2530.8,480.1 L2660.8,480.1 L2660.8,496.3 Z" fill="url(#g21)"/>
<path d="M1731.9,584.6 L1778.9,555.1 L1778.9,571.3 L1907.0,571.3 L1907.0,597.9 L1778.9,597.9 L1778.9,614.1 Z" fill="url(#g22)"/>
<path d="M2707.8,584.6 L2660.8,555.1 L2660.8,571.3 L2530.8,571.3 L2530.8,597.9 L2660.8,597.9 L2660.8,614.1 Z" fill="url(#g23)"/>
<path d="M187.2,655.5 L140.2,626.0 L140.2,642.2 L0.0,642.2 L0.0,642.2 C9.4,655.5 25.8,668.8 47.0,668.8 L140.2,668.8 L140.2,685.0 Z" fill="url(#g24)"/>
<path d="M187.2,768.3 L140.2,738.8 L140.2,755.0 L47.0,755.0 C25.8,755.0 9.4,768.3 0.0,781.6 L140.2,781.6 L140.2,797.8 Z" fill="url(#g24)"/>
<path d="M595.8,655.5 L642.8,626.0 L642.8,642.2 L782.5,642.2 L782.5,642.2 C772.9,655.5 756.0,668.8 734.4,668.8 L642.8,668.8 L642.8,685.0 Z" fill="url(#g25)"/>
<path d="M595.8,768.3 L642.8,738.8 L642.8,755.0 L734.4,755.0 C756.0,755.0 772.9,768.3 782.5,781.6 L642.8,781.6 L642.8,797.8 Z" fill="url(#g25)"/>
<path d="M1655.8,814.6 L1608.8,785.1 L1608.8,801.3 L1363.0,801.3 L1363.0,827.9 L1608.8,827.9 L1608.8,844.1 Z" fill="url(#g26)"/>
<path d="M1655.8,923.4 L1608.8,893.9 L1608.8,910.1 L1363.0,910.1 L1363.0,936.7 L1608.8,936.7 L1608.8,952.9 Z" fill="url(#g27)"/>
<path d="M1990.2,814.6 L1943.2,785.1 L1943.2,801.3 L1731.7,801.3 L1731.7,827.9 L1943.2,827.9 L1943.2,844.1 Z" fill="url(#g28)"/>
<path d="M2662.0,814.6 L2615.0,785.1 L2615.0,801.3 L2399.7,801.3 L2399.7,827.9 L2615.0,827.9 L2615.0,844.1 Z" fill="url(#g29)"/>
<path d="M1990.2,923.4 L1943.2,893.9 L1943.2,910.1 L1731.7,910.1 L1731.7,936.7 L1943.2,936.7 L1943.2,952.9 Z" fill="url(#g30)"/>
<path d="M2662.0,923.4 L2615.0,893.9 L2615.0,910.1 L2399.7,910.1 L2399.7,936.7 L2615.0,936.7 L2615.0,952.9 Z" fill="url(#g31)"/>
<path d="M2030.6,801.3 L2108.8,801.3 A30.4,30.4 0 0 0 2139.2,770.9 L2139.2,666 L2123.0,666 L2152.5,618.6 L2182.0,666 L2165.8,666 L2165.8,770.9 A57,57 0 0 1 2108.8,827.9 L2030.6,827.9 Z" fill="url(#g32)" />
<path d="M2075.4,910.1 L2244.4,910.1 A30.4,30.4 0 0 0 2274.8,879.7 L2274.8,666 L2258.6,666 L2288.1,618.6 L2317.6,666 L2301.4,666 L2301.4,879.7 A57,57 0 0 1 2244.4,936.7 L2075.4,936.7 Z" fill="url(#g33)" />
<path d="M1953.4,348.5 L2000.4,319.0 L2000.4,335.2 L2129.7,335.2 C2151.9,335.2 2169.1,348.5 2179.0,361.8 L2000.4,361.8 L2000.4,378.0 Z" fill="url(#g34)"/>
<path d="M2485.6,348.5 L2438.6,319.0 L2438.6,335.2 L2311.7,335.2 C2288.4,335.2 2270.3,348.5 2260.0,361.8 L2438.6,361.8 L2438.6,378.0 Z" fill="url(#g35)"/>
<path d="M1953.4,466.8 L2000.4,437.3 L2000.4,453.5 L2129.7,453.5 C2151.9,453.5 2169.1,466.8 2179.0,480.1 L2000.4,480.1 L2000.4,496.3 Z" fill="url(#g36)"/>
<path d="M2485.6,466.8 L2438.6,437.3 L2438.6,453.5 L2311.7,453.5 C2288.4,453.5 2270.3,466.8 2260.0,480.1 L2438.6,480.1 L2438.6,496.3 Z" fill="url(#g37)"/>
<path d="M1953.4,584.6 L2000.4,555.1 L2000.4,571.3 L2129.7,571.3 C2151.9,571.3 2169.1,584.6 2179.0,597.9 L2000.4,597.9 L2000.4,614.1 Z" fill="url(#g38)"/>
<path d="M2485.6,584.6 L2438.6,555.1 L2438.6,571.3 L2311.7,571.3 C2288.4,571.3 2270.3,584.6 2260.0,597.9 L2438.6,597.9 L2438.6,614.1 Z" fill="url(#g39)"/>
<path d="M1848.5,335.2 V361.8 M2044.4,335.2 V361.8 M2395.7,335.2 V361.8 M2592.5,335.2 V361.8 M2083.1,335.2 V361.8 M2356.6,335.2 V361.8 M2630.1,335.2 V361.8 M1809.3,335.2 V361.8 M1848.5,453.5 V480.1 M2044.4,453.5 V480.1 M2395.7,453.5 V480.1 M2592.5,453.5 V480.1 M2083.1,453.5 V480.1 M2356.6,453.5 V480.1 M2630.1,453.5 V480.1 M1809.3,453.5 V480.1 M1848.5,571.3 V597.9 M2044.4,571.3 V597.9 M2395.7,571.3 V597.9 M2592.5,571.3 V597.9 M2083.1,571.3 V597.9 M2356.6,571.3 V597.9 M2630.1,571.3 V597.9 M1809.3,571.3 V597.9" stroke="#222" stroke-width="1.5" fill="none" opacity="0.3"/>
<path d="M1340.3,723.9 L1259.7,740.1 L1259.7,748.5 L1340.3,764.4 M1340.3,786.6 L1259.7,802.9 L1259.7,811.2 L1340.3,827.1 M1340.3,849.4 L1259.7,865.6 L1259.7,874.0 L1340.3,889.9 M1340.3,912.1 L1259.7,928.4 L1259.7,936.8 L1340.3,952.6 M1340.3,974.9 L1259.7,991.1 L1259.7,999.5 L1340.3,1015.4" stroke="#1E9B52" stroke-width="3.7" fill="none" stroke-linejoin="miter"/>
<path d="M1340.3,723.9 L1259.7,740.1 L1259.7,748.5 L1340.3,764.4 M1340.3,786.6 L1259.7,802.9 L1259.7,811.2 L1340.3,827.1 M1340.3,849.4 L1259.7,865.6 L1259.7,874.0 L1340.3,889.9 M1340.3,912.1 L1259.7,928.4 L1259.7,936.8 L1340.3,952.6 M1340.3,974.9 L1259.7,991.1 L1259.7,999.5 L1340.3,1015.4" stroke="#5A4426" stroke-width="3.7" fill="none" stroke-linejoin="miter" clip-path="url(#cpo)"/>
<rect x="1536.5" y="95.3" width="49.6" height="322" fill="none" stroke="#a8a8a8" stroke-width="1"/>
<rect x="1538" y="117.1" width="46" height="4.2" rx="2.1" fill="#888" stroke="#4a4a4a" stroke-width="1.2"/>
<circle cx="1561.3" cy="119.2" r="4.7" fill="#888" stroke="#4a4a4a" stroke-width="1.2"/>
<rect x="1538" y="162.8" width="46" height="4.2" rx="2.1" fill="#888" stroke="#4a4a4a" stroke-width="1.2"/>
<circle cx="1561.3" cy="164.8" r="4.7" fill="#888" stroke="#4a4a4a" stroke-width="1.2"/>
<rect x="1538" y="208.4" width="46" height="4.2" rx="2.1" fill="#888" stroke="#4a4a4a" stroke-width="1.2"/>
<circle cx="1561.3" cy="210.5" r="4.7" fill="#888" stroke="#4a4a4a" stroke-width="1.2"/>
<rect x="1538" y="254.0" width="46" height="4.2" rx="2.1" fill="#888" stroke="#4a4a4a" stroke-width="1.2"/>
<circle cx="1561.3" cy="256.1" r="4.7" fill="#888" stroke="#4a4a4a" stroke-width="1.2"/>
<rect x="1538" y="299.7" width="46" height="4.2" rx="2.1" fill="#888" stroke="#4a4a4a" stroke-width="1.2"/>
<circle cx="1561.3" cy="301.8" r="4.7" fill="#888" stroke="#4a4a4a" stroke-width="1.2"/>
<rect x="1538" y="345.3" width="46" height="4.2" rx="2.1" fill="#888" stroke="#4a4a4a" stroke-width="1.2"/>
<circle cx="1561.3" cy="347.4" r="4.7" fill="#888" stroke="#4a4a4a" stroke-width="1.2"/>
<rect x="1538" y="391.0" width="46" height="4.2" rx="2.1" fill="#888" stroke="#4a4a4a" stroke-width="1.2"/>
<circle cx="1561.3" cy="393.1" r="4.7" fill="#888" stroke="#4a4a4a" stroke-width="1.2"/>
</svg>
</body></html>
